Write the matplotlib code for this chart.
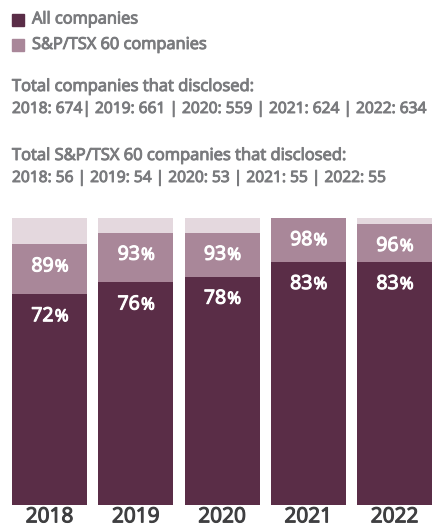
import matplotlib
matplotlib.use("Agg")
import matplotlib.pyplot as plt
import matplotlib.patheffects as pe

years = ["2018", "2019", "2020", "2021", "2022"]
all_companies = [72, 76, 78, 83, 83]
sptsx60 = [89, 93, 93, 98, 96]
total_all = [674, 661, 559, 624, 634]
total_sp = [56, 54, 53, 55, 55]

DARK = "#5a2d47"
MID = "#a98799"
LIGHT = "#e4d8de"
GREY = "#7a7b7e"
YEARC = "#3f3f41"
FONT = "Open Sans"


def emb(color, lw=0.7):
    return [pe.Stroke(linewidth=lw, foreground=color), pe.Normal()]


W, H = 434, 531
fig = plt.figure(figsize=(W / 100, H / 100), dpi=100)


def ftext(x, y, s, color=GREY, **kw):
    fig.text(x / W, 1 - y / H, s, va="center", ha="left", family=FONT,
             color=color, path_effects=emb(color), **kw)


# legend
fig.patches.append(plt.Rectangle((12 / W, 1 - 26 / H), 12 / W, 12 / H,
                                 transform=fig.transFigure, color=DARK))
fig.patches.append(plt.Rectangle((12 / W, 1 - 51 / H), 12 / W, 12 / H,
                                 transform=fig.transFigure, color=MID))
ftext(32, 19.5, "All companies", size=11.8)
ftext(32, 45, "S&P/TSX 60 companies", size=11.8)

row_all = f"{years[0]}: {total_all[0]}| " + " | ".join(
    f"{y}: {v}" for y, v in zip(years[1:], total_all[1:]))
row_sp = " | ".join(f"{y}: {v}" for y, v in zip(years, total_sp))
ftext(12, 87, "Total companies that disclosed:", size=11.9)
ftext(12, 109, row_all, size=11.2)
ftext(12, 156, "Total S&P/TSX 60 companies that disclosed:", size=11.9)
ftext(12, 178, row_sp, size=11.2)

# bars
left_px = 49.5 - 0.5 * 86.25
ax = fig.add_axes([left_px / W, (H - 505) / H, 431.25 / W, 287 / H])
x = list(range(len(years)))
bw = 75 / 86.25
ax.bar(x, [100] * len(x), width=bw, color=LIGHT)
ax.bar(x, sptsx60, width=bw, color=MID)
ax.bar(x, all_companies, width=bw, color=DARK)
ax.set_xlim(-0.5, 4.5)
ax.set_ylim(0, 98)
ax.axis("off")

for i in x:
    for v in (sptsx60[i], all_companies[i]):
        ax.annotate(f"{v}", (i, v), xytext=(3.0, -19.5), textcoords="offset points",
                    ha="right", va="baseline", color="white", size=14,
                    family=FONT, path_effects=emb("white", 0.8))
        ax.annotate("%", (i, v), xytext=(3.8, -19.5), textcoords="offset points",
                    ha="left", va="baseline", color="white", size=12,
                    family=FONT, path_effects=emb("white", 0.8))
    ax.annotate(years[i], (i, 0), xytext=(0, -8.5), textcoords="offset points",
                ha="center", va="center", color=YEARC, size=15,
                family=FONT, annotation_clip=False, path_effects=emb(YEARC, 0.8))

fig.savefig("out.png", dpi=100)
